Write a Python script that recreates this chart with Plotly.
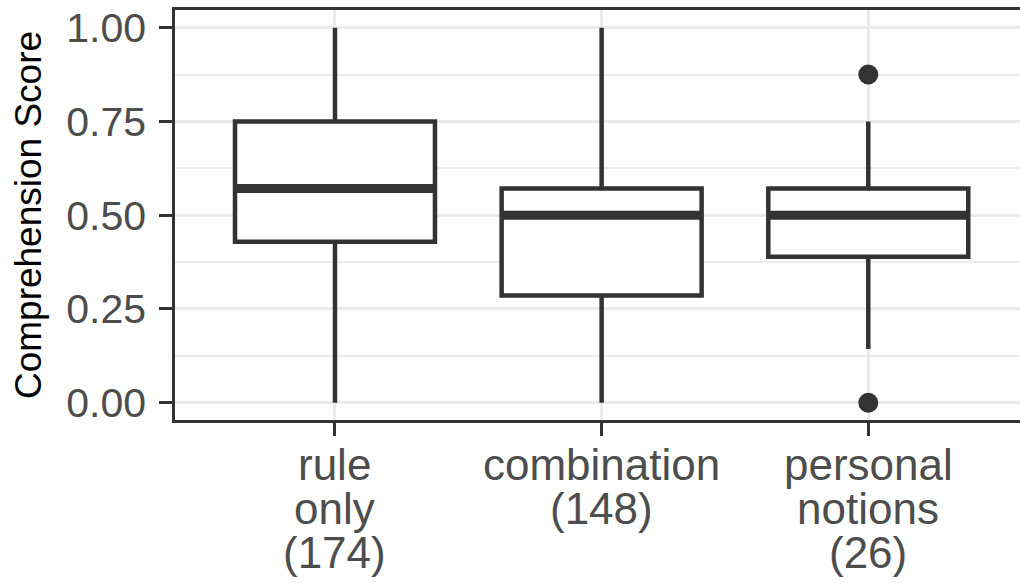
import plotly.graph_objects as go

# ---- data ----
categories = ["rule only", "combination", "personal notions"]
counts = [174, 148, 26]
label_lines = [["rule", "only", "(174)"], ["combination", "(148)"], ["personal", "notions", "(26)"]]
x_pos = [1, 2, 3]
lower_whisker = [0.0, 0.0, 0.143]
q1 = [0.429, 0.286, 0.389]
median = [0.571, 0.5, 0.5]
q3 = [0.75, 0.571, 0.571]
upper_whisker = [1.0, 1.0, 0.75]
outlier_x = [3, 3]
outlier_y = [0.875, 0.0]
y_ticks = [0.0, 0.25, 0.5, 0.75, 1.0]
y_tick_labels = ["0.00", "0.25", "0.50", "0.75", "1.00"]

DARK = "#333333"
GRID = "#EBEBEB"
FONT = "Liberation Sans, Arial, sans-serif"
BOX_W = 0.75

fig = go.Figure()
fig.add_trace(go.Box(
    x=x_pos, q1=q1, median=median, q3=q3,
    lowerfence=lower_whisker, upperfence=upper_whisker,
    width=BOX_W, whiskerwidth=0, boxpoints=False,
    fillcolor="white", line=dict(color=DARK, width=4.5),
    showlegend=False, hoverinfo="skip",
))

# thick median bars
mx, my = [], []
for xi, m in zip(x_pos, median):
    mx += [xi - BOX_W / 2, xi + BOX_W / 2, None]
    my += [m, m, None]
fig.add_trace(go.Scatter(x=mx, y=my, mode="lines",
                         line=dict(color=DARK, width=9), showlegend=False, hoverinfo="skip"))

fig.add_trace(go.Scatter(x=outlier_x, y=outlier_y, mode="markers",
                         marker=dict(color=DARK, size=20), showlegend=False, hoverinfo="skip",
                         cliponaxis=False))

# x tick labels as stacked lines
LINE_GAP = 44
for xi, lines in zip(x_pos, label_lines):
    for k, txt in enumerate(lines):
        fig.add_annotation(x=xi, y=0, xref="x", yref="paper", text=txt, showarrow=False,
                           yanchor="top", xanchor="center", yshift=-18 - k * LINE_GAP,
                           font=dict(family=FONT, size=44, color="#4D4D4D"))

fig.update_layout(
    width=1020, height=583,
    margin=dict(l=175, r=0, t=10, b=163, autoexpand=False),
    paper_bgcolor="white", plot_bgcolor="white",
    font=dict(family=FONT),
)
fig.update_xaxes(
    range=[0.4, 3.569], tickvals=x_pos, ticktext=["", "", ""], showticklabels=False,
    ticks="outside", ticklen=13, tickwidth=3, tickcolor=DARK, automargin=False,
    showgrid=True, gridcolor=GRID, gridwidth=3,
    showline=True, linecolor=DARK, linewidth=2.5, mirror=True, zeroline=False,
)
fig.update_yaxes(
    range=[-0.046, 1.047], tickvals=y_ticks, ticktext=y_tick_labels,
    ticks="outside", ticklen=13, tickwidth=3, tickcolor=DARK, automargin=False,
    tickfont=dict(family=FONT, size=41, color="#4D4D4D"), ticklabelstandoff=5,
    showgrid=True, gridcolor=GRID, gridwidth=3,
    minor=dict(dtick=0.125, tick0=0, showgrid=True, gridcolor=GRID, gridwidth=1.5, ticks=""),
    showline=True, linecolor=DARK, linewidth=2.5, mirror=False, zeroline=False,
    title=dict(text="Comprehension Score", font=dict(family=FONT, size=37, color="black"), standoff=14),
)

fig.write_html("out.html", config={"displayModeBar": False},
               post_script="document.body.style.margin='0';document.body.style.overflow='hidden';")
